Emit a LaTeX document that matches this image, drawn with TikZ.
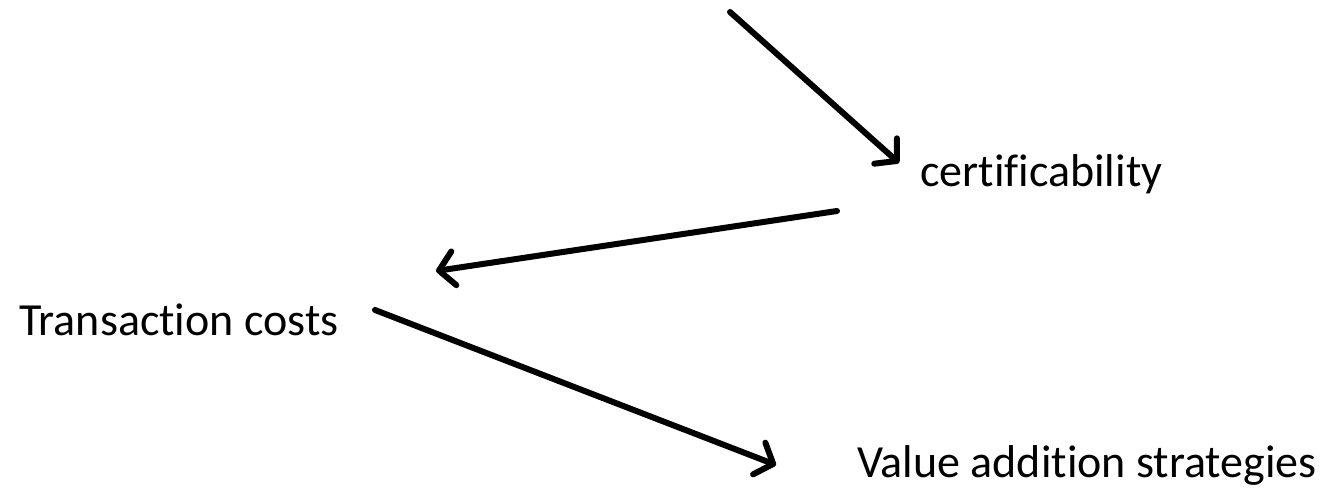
\documentclass[tikz,border=0pt]{standalone}
\usepackage{fontspec}
\setmainfont{Carlito}[Ligatures=NoCommon]
\usetikzlibrary{arrows.meta,calc}

\tikzset{
  label text/.style={inner sep=0pt, anchor=base west, font=\fontsize{46pt}{55pt}\selectfont},
  flow arrow/.style={line width=6pt, line cap=round, -{Straight Barb[length=15pt, width=34pt, round]}}
}

\begin{document}
\begin{tikzpicture}[x=1pt, y=1pt]
    \useasboundingbox (0,0) rectangle (1343,489);

    \node[label text] (cert) at (920,302) {certificability};
    \node[label text] (trans) at (19,153) {Transaction costs};
    \node[label text] (value) at (857,11) {Value addition strategies};
    \coordinate (top) at (730,477);

    \draw[flow arrow] (top) -- ($(cert.base west)+(-21,24)$);
    \draw[flow arrow] ($(cert.base west)+(-83,-24)$) -- ($(trans.base west)+(417,65)$);
    \draw[flow arrow] ($(trans.base west)+(356,26)$) -- ($(value.base west)+(-81,13)$);
\end{tikzpicture}
\end{document}
